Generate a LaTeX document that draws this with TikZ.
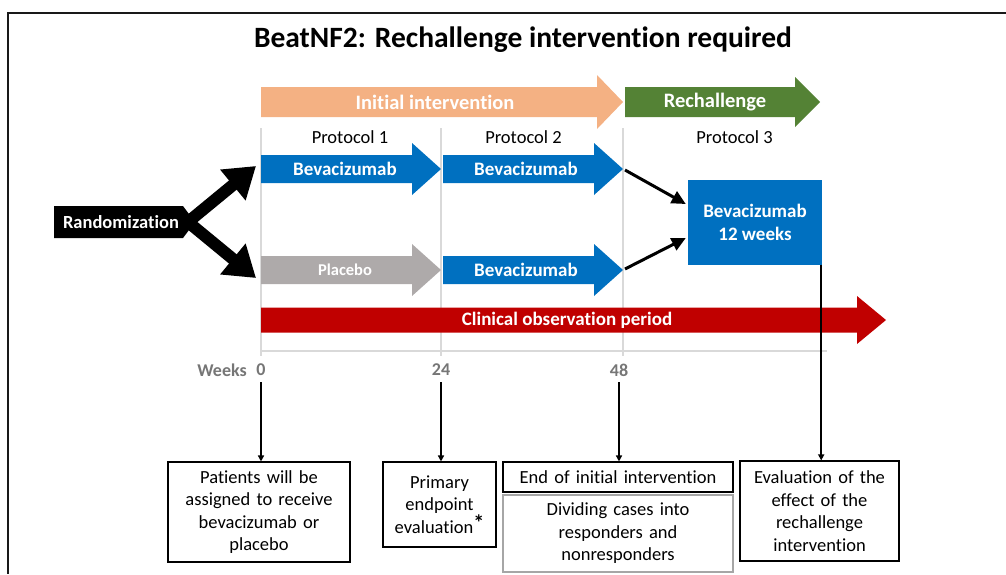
\documentclass[tikz,border=0pt]{standalone}
\usepackage{fontspec}
\setmainfont[Ligatures=NoCommon]{Carlito}
\usetikzlibrary{arrows.meta}
\definecolor{peach}{HTML}{F4B183}
\definecolor{dgreen}{HTML}{548235}
\definecolor{mblue}{HTML}{0070C0}
\definecolor{dred}{HTML}{C00000}
\definecolor{pgray}{HTML}{AEAAAA}
\definecolor{gridc}{HTML}{D9D9D9}
\definecolor{wgray}{HTML}{767676}
\definecolor{b4gray}{HTML}{A6A6A6}
\newcommand{\blockarr}[7]{%
  \fill[#7] (#1,{#4-#5}) -- (#2,{#4-#5}) -- (#2,{#4-#6}) -- (#3,#4) -- (#2,{#4+#6}) -- (#2,{#4+#5}) -- (#1,{#4+#5}) -- cycle;}
\begin{document}
\begin{tikzpicture}[x=1pt,y=-1pt,
  arrlab/.style={font=\bfseries\fontsize{19}{21}\selectfont, text=white, inner sep=0pt},
  prot/.style={font=\fontsize{18.5}{20}\selectfont, inner sep=0pt},
  wk/.style={font=\bfseries\fontsize{18}{20}\selectfont, text=wgray, inner sep=0pt},
  boxt/.style={draw, line width=1.1pt, align=center, inner sep=0pt, font=\fontsize{18.5}{22.5}\selectfont},
  conn/.style={line width=1.6pt, -{Triangle[length=6pt,width=6pt]}},
  thk/.style={line width=3pt, -{Triangle[length=14pt,width=13pt]}},
  fork/.style={line width=12pt, -{Triangle[length=30pt,width=38pt]}},
  gridl/.style={gridc, line width=1.8pt}
]
\useasboundingbox (0,0) rectangle (1006,574);
% frame
\draw[line width=2pt, black!90] (1006,13) -- (8,13) -- (8,574);
% title
\node[font=\bfseries\fontsize{29.5}{32}\selectfont, inner sep=0pt] (title) at (523,40) {BeatNF2: Rechallenge intervention required};
% grid
\draw[gridl] (261,128) -- (261,356);
\draw[gridl] (441,128) -- (441,356);
\draw[gridl] (623,128) -- (623,356);
\draw[gridl] (261,351) -- (827,351);
% top arrows
\blockarr{261}{597}{623}{102}{15}{27}{peach}
\node[arrlab, font=\bfseries\fontsize{20.5}{22}\selectfont] (ini) at (435,102) {Initial intervention};
\blockarr{625}{795}{820}{102}{15}{25}{dgreen}
\node[arrlab, font=\bfseries\fontsize{20.5}{22}\selectfont] (rech) at (715,102) {Rechallenge};
% protocol labels
\node[prot] (p1) at (350,137) {Protocol 1};
\node[prot] (p2) at (523.5,137) {Protocol 2};
\node[prot] (p3) at (734.5,137) {Protocol 3};
% treatment arrows
\blockarr{261}{412}{441}{169}{14}{26}{mblue}
\node[arrlab] (bev1) at (345,169) {Bevacizumab};
\blockarr{443}{594}{623}{169}{14}{26}{mblue}
\node[arrlab] (bev2) at (526,169) {Bevacizumab};
\blockarr{261}{412}{441}{270}{14}{26}{pgray}
\node[arrlab, font=\bfseries\fontsize{16.5}{18}\selectfont] (plac) at (345,270) {Placebo};
\blockarr{443}{594}{623}{270}{14}{26}{mblue}
\node[arrlab] (bev3) at (526,270) {Bevacizumab};
% clinical observation
\blockarr{261}{857}{886}{320}{12.5}{24}{dred}
\node[arrlab] (clin) at (567,320) {Clinical observation period};
% randomization
\fill[black] (54,206) -- (183,206) -- (195,222) -- (183,238) -- (54,238) -- cycle;
\node[arrlab, font=\bfseries\fontsize{18.5}{20}\selectfont] (rand) at (121,222) {Randomization};
\coordinate (fk) at (188,222);
\coordinate (ftop) at (256,166);
\coordinate (fbot) at (256,278);
\draw[fork] (fk) -- (ftop);
\draw[fork] (fk) -- (fbot);
% rechallenge box
\node[fill=mblue, minimum width=134pt, minimum height=85pt, inner sep=0pt, align=center, text=white,
  font=\bfseries\fontsize{19}{23}\selectfont] (b12) at (755,222) {Bevacizumab\\12 weeks};
\coordinate (tip2) at (625,170);
\coordinate (tip3) at (625,269);
\draw[thk] (tip2) -- ([yshift=18pt,xshift=-2pt]b12.west);
\draw[thk] (tip3) -- ([yshift=-16pt,xshift=-2pt]b12.west);
% weeks
\node[wk] (wl) at (222,370) {Weeks};
\node[wk] (w0) at (261,370) {0};
\node[wk] (w24) at (441,370) {24};
\node[wk] (w48) at (619,370) {48};
% bottom boxes
\node[boxt, text width=182pt, minimum height=100pt] (b1) at (259,512) {Patients will be\\assigned to receive\\bevacizumab or\\placebo};
\node[boxt, text width=113pt, minimum height=85pt] (b2) at (439.5,504.5) {Primary\\endpoint\\evaluation\raisebox{3pt}{\fontsize{22}{22}\selectfont\bfseries *}};
\node[boxt, text width=230pt, minimum height=30pt] (b3) at (618,477) {End of initial intervention};
\node[boxt, draw=b4gray, text width=230pt, minimum height=77pt] (b4) at (618,533.5) {Dividing cases into\\responders and\\nonresponders};
\node[boxt, text width=159pt, minimum height=100pt] (b5) at (819.5,511) {Evaluation of the\\effect of the\\rechallenge\\intervention};
% connectors
\draw[conn] ([yshift=-6pt]w0.south) -- (w0.south |- b1.north);
\draw[conn] ([yshift=-6pt]w24.south) -- (w24.south |- b2.north);
\draw[conn] ([yshift=-6pt]w48.south) -- (w48.south |- b3.north);
\draw[conn] ([xshift=-1pt]b12.south east) -- ([xshift=-1pt]b12.south east |- b5.north);
\end{tikzpicture}
\end{document}
